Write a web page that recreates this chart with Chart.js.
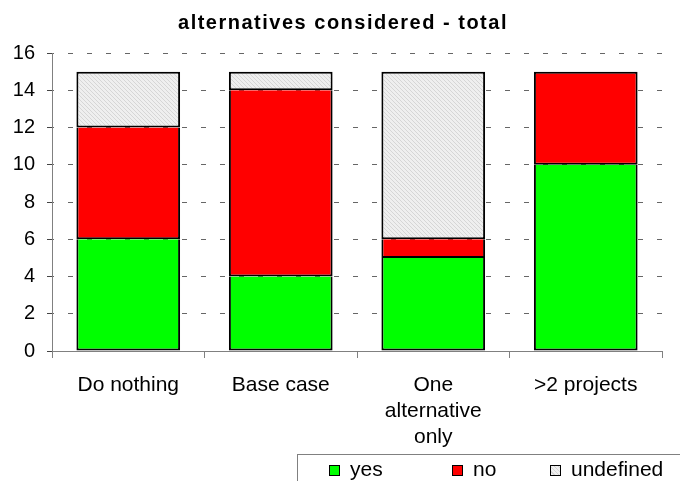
<!DOCTYPE html>
<html>
<head>
<meta charset="utf-8">
<script src="https://cdn.jsdelivr.net/npm/chart.js@4.4.1/dist/chart.umd.min.js"></script>
<style>
  html, body { margin: 0; padding: 0; background: #fff; }
  #wrap { position: relative; width: 680px; height: 481px; overflow: hidden; }
  #c { position: absolute; left: 0; top: 0; }
  #title {
    position: absolute; left: 0; top: 10px; width: 686px; text-align: center;
    font-family: "Liberation Sans", Arial, sans-serif; font-size: 20px; font-weight: bold;
    letter-spacing: 1.5px; color: #000; line-height: 24px; white-space: nowrap;
  }
  #legend {
    position: absolute; left: 297px; top: 454px; width: 420px; height: 40px;
    border: 1px solid #808080; box-sizing: border-box;
    font-family: "Liberation Sans", Arial, sans-serif; font-size: 21px; color: #000;
  }
  .item { position: absolute; top: 2px; line-height: 24px; }
  .sw { position: absolute; top: 8px; width: 9px; height: 9px; border: 1px solid #000; }
  .lbl { position: absolute; top: 0; white-space: nowrap; }
</style>
</head>
<body>
<div id="wrap">
  <canvas id="c" width="680" height="481"></canvas>
  <div id="title">alternatives considered - total</div>
  <div id="legend"></div>
</div>
<script>
// Categories and stacked counts
const categories = ['Do nothing', 'Base case', ['One', 'alternative', 'only'], '>2 projects'];
const yesValues = [6, 4, 5, 10];
const noValues = [6, 10, 1, 5];
const undefinedValues = [3, 1, 9, 0];
const seriesNames = ['yes', 'no', 'undefined'];
const yTicks = [0, 2, 4, 6, 8, 10, 12, 14, 16];

// Fine diagonal hatch used for the "undefined" segment
function hatchPattern() {
  const p = document.createElement('canvas');
  p.width = 4; p.height = 4;
  const g = p.getContext('2d');
  g.fillStyle = '#efefef';
  g.fillRect(0, 0, 4, 4);
  g.fillStyle = '#d6d6d6';
  for (let i = 0; i < 4; i++) g.fillRect(i, i, 1, 1);
  return g.createPattern(p, 'repeat');
}
const ctx = document.getElementById('c').getContext('2d');
const hatch = hatchPattern();

const fills = ['#00ff00', '#ff0000', hatch];
const valueSets = [yesValues, noValues, undefinedValues];
const fontFamily = '"Liberation Sans", Arial, sans-serif';

// Segment outlines: each shared edge is drawn once, by the upper segment
function segmentBorder(c) {
  const ds = c.datasetIndex, i = c.dataIndex;
  let topmost = true;
  for (let k = ds + 1; k < valueSets.length; k++) if (valueSets[k][i] > 0) topmost = false;
  return { left: 2, right: 2, top: topmost ? 2 : 0, bottom: 2 };
}

new Chart(ctx, {
  type: 'bar',
  data: {
    labels: categories,
    datasets: seriesNames.map((name, i) => ({
      label: name,
      data: valueSets[i],
      backgroundColor: fills[i],
      borderColor: '#000',
      borderWidth: segmentBorder,
      borderSkipped: false,
      categoryPercentage: 1,
      barPercentage: 0.68
    }))
  },
  options: {
    responsive: false,
    animation: false,
    layout: { padding: { left: 0, right: 18, top: 53, bottom: 0 } },
    plugins: {
      legend: { display: false },
      tooltip: { enabled: false },
      title: { display: false }
    },
    scales: {
      x: {
        stacked: true,
        border: { display: true, color: '#808080', width: 1 },
        grid: { display: true, drawOnChartArea: false, drawTicks: true, tickLength: 7, color: '#808080', offset: true },
        ticks: {
          color: '#000',
          padding: 14,
          maxRotation: 0,
          autoSkip: false,
          font: { family: fontFamily, size: 21, lineHeight: 1.24 }
        },
        afterFit: s => { s.height = 130; }
      },
      y: {
        stacked: true,
        min: 0, max: 16,
        afterBuildTicks: s => { s.ticks = yTicks.map(v => ({ value: v })); },
        border: { display: true, color: '#808080', width: 1, dash: [5, 14], dashOffset: -15 },
        grid: {
          color: '#666',
          lineWidth: 1,
          drawTicks: true,
          tickLength: 5,
          tickColor: '#444',
          tickBorderDash: []
        },
        ticks: {
          color: '#000',
          padding: 12,
          font: { family: fontFamily, size: 20 }
        },
        afterFit: s => { s.width = 52; }
      }
    }
  }
});

// Legend row below the chart
const legend = document.getElementById('legend');
const legendX = [31, 154, 252];
const swatchCss = ['#00ff00', '#ff0000', 'repeating-linear-gradient(45deg, #efefef 0 2px, #d6d6d6 2px 3px)'];
seriesNames.forEach((name, i) => {
  const item = document.createElement('div');
  item.className = 'item';
  item.style.left = legendX[i] + 'px';
  const sw = document.createElement('div');
  sw.className = 'sw';
  sw.style.left = '0px';
  sw.style.background = swatchCss[i];
  const lbl = document.createElement('div');
  lbl.className = 'lbl';
  lbl.style.left = '21px';
  lbl.textContent = name;
  item.appendChild(sw);
  item.appendChild(lbl);
  legend.appendChild(item);
});
</script>
</body>
</html>
